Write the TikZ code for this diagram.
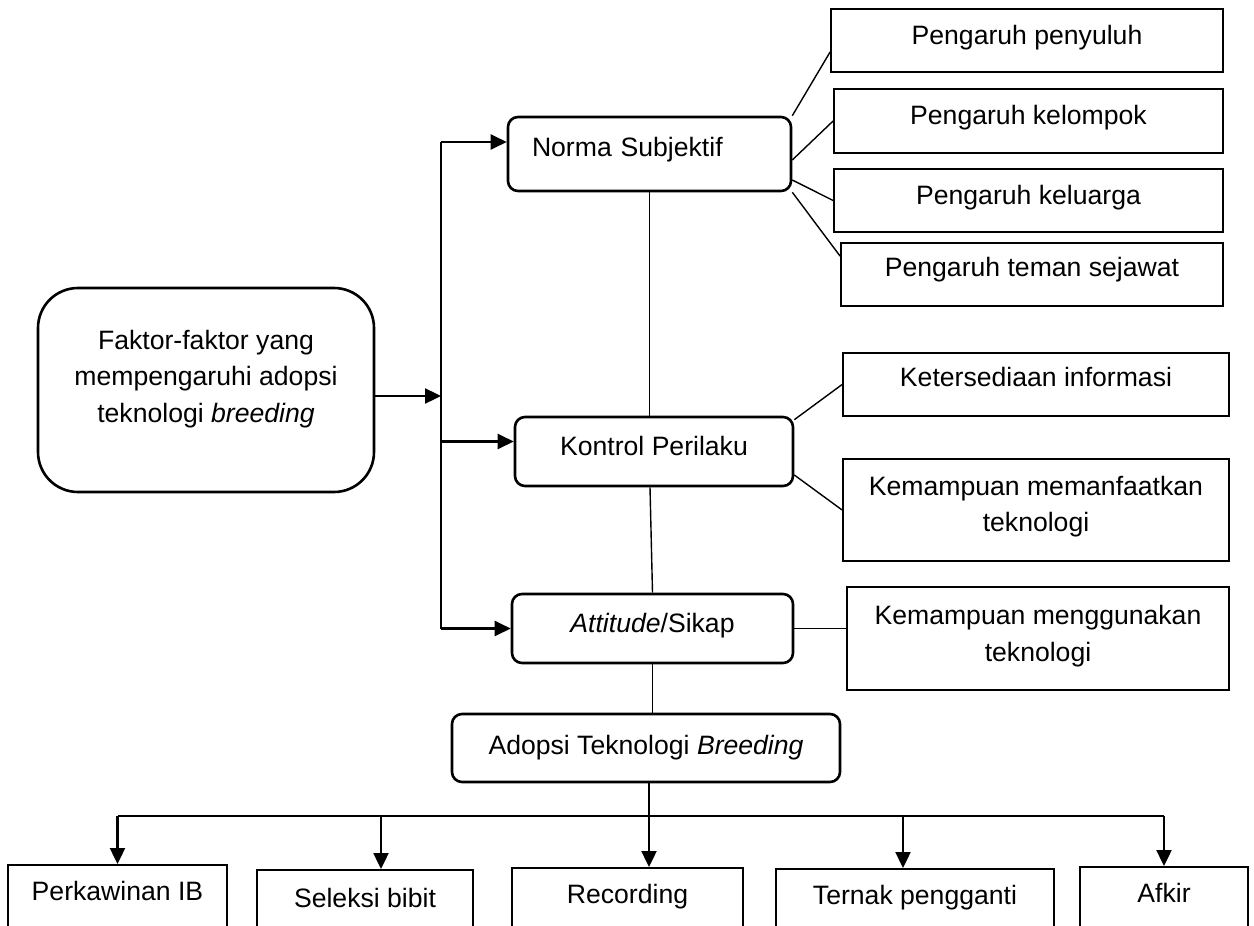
\documentclass[tikz,border=0pt]{standalone}
\usepackage{fontspec}
\setmainfont{Liberation Sans}
\usepackage{tikz}
\usetikzlibrary{arrows.meta}

\begin{document}
\begin{tikzpicture}[x=1pt, y=-1pt,
    every node/.style={font=\fontsize{26.6}{36.5}\selectfont, inner sep=0pt},
    rbox/.style={draw, rectangle, rounded corners=10pt, line width=2.6pt, align=center},
    pbox/.style={draw, rectangle, line width=1.8pt, align=center},
    link/.style={line width=1.4pt},
    arr/.style={line width=2.4pt, -{Triangle[length=16pt, width=15pt]}}]
    \useasboundingbox (0,0) rectangle (1254,926);
    \clip (0,0) rectangle (1254,926);

    \node[rbox, rounded corners=40pt, minimum width=336pt, minimum height=204pt, text depth=28pt] (faktor) at (206,390) {Faktor-faktor yang\\ mempengaruhi adopsi\\ teknologi \textit{breeding}};
    \node[rbox, minimum width=283pt, minimum height=74pt, text width=235pt, inner xsep=24pt, align=left, text depth=14pt] (norma) at (649.5,154) {Norma Subjektif};
    \node[rbox, minimum width=278pt, minimum height=69pt, text depth=11pt] (kontrol) at (654,451.5) {Kontrol Perilaku};
    \node[rbox, minimum width=281pt, minimum height=69pt, text depth=11pt] (sikap) at (652.5,628.5) {\textit{Attitude}/Sikap};
    \node[rbox, minimum width=388pt, minimum height=68pt, text depth=6pt] (adopsi) at (646,748) {Adopsi Teknologi \textit{Breeding}};

    \node[pbox, minimum width=392pt, minimum height=63pt, text depth=11pt] (penyuluh) at (1027,40.5) {Pengaruh penyuluh};
    \node[pbox, minimum width=389pt, minimum height=64pt, text depth=12pt] (kelompok) at (1028.5,121) {Pengaruh kelompok};
    \node[pbox, minimum width=389pt, minimum height=63pt, text depth=11pt] (keluarga) at (1028.5,200.5) {Pengaruh keluarga};
    \node[pbox, minimum width=382pt, minimum height=63pt, text depth=15pt] (teman) at (1032,274.5) {Pengaruh teman sejawat};
    \node[pbox, minimum width=386pt, minimum height=63pt, text depth=15pt] (informasi) at (1036,384.5) {Ketersediaan informasi};
    \node[pbox, minimum width=386pt, minimum height=102pt, text depth=12pt] (manfaat) at (1036,510) {Kemampuan memanfaatkan\\ teknologi};
    \node[pbox, minimum width=382pt, minimum height=103pt, text depth=10pt] (guna) at (1038,638.5) {Kemampuan menggunakan\\ teknologi};

    \node[pbox, anchor=north, minimum width=219pt, minimum height=100pt, text depth=48pt] (ib) at (117.5,864) {Perkawinan IB};
    \node[pbox, anchor=north, minimum width=216pt, minimum height=100pt, text depth=44pt] (seleksi) at (365,869) {Seleksi bibit};
    \node[pbox, anchor=north, minimum width=231pt, minimum height=100pt, text depth=48pt] (recording) at (627.5,867) {Recording};
    \node[pbox, anchor=north, minimum width=278pt, minimum height=100pt, text depth=48pt] (ternak) at (915,868) {Ternak pengganti};
    \node[pbox, anchor=north, minimum width=168pt, minimum height=100pt, text depth=48pt] (afkir) at (1164,866) {Afkir};

    \coordinate (bustop) at (441,142);
    \coordinate (hub) at (649,816);

    \draw[arr] ([yshift=-6pt]faktor.east) -- ([yshift=-6pt]faktor.east -| bustop);
    \draw[link] (bustop) -- (sikap.west -| bustop);
    \draw[arr] (bustop) -- (bustop -| norma.west);
    \draw[arr] ([yshift=10pt]kontrol.west -| bustop) -- ([yshift=10pt]kontrol.west);
    \draw[arr] (sikap.west -| bustop) -- (sikap.west);

    \draw[link] (norma.north east) -- ([yshift=-11.5pt]penyuluh.west);
    \draw[link] ([yshift=-6pt]norma.east) -- (kelompok.west);
    \draw[link] ([yshift=-26pt]norma.east) -- (keluarga.west);
    \draw[link] (norma.south east) -- ([yshift=-14pt]teman.north west);
    \draw[link] ([yshift=-4pt]kontrol.north east) -- (informasi.west);
    \draw[link] ([yshift=-23.5pt]kontrol.east) -- (manfaat.west);
    \draw[link] (sikap.east) -- (sikap.east -| guna.west);

    \draw[link] (norma.south) -- (norma.south |- kontrol.north);
    \draw[link] ([xshift=-4pt]kontrol.south) -- (sikap.north);
    \draw[link] (sikap.south) -- (sikap.south |- adopsi.north);
    \draw[link] (adopsi.south -| hub) -- (hub);
    \draw[link] (ib.north |- hub) -- (afkir.north |- hub);

    \draw[arr] (ib.north |- hub) -- (ib.north);
    \draw[arr] ([xshift=16pt]seleksi.north |- hub) -- ([xshift=16pt]seleksi.north);
    \draw[arr] (hub) -- (hub |- recording.north);
    \draw[arr] ([xshift=-12pt]ternak.north |- hub) -- ([xshift=-12pt]ternak.north);
    \draw[arr] (afkir.north |- hub) -- (afkir.north);
\end{tikzpicture}
\end{document}
